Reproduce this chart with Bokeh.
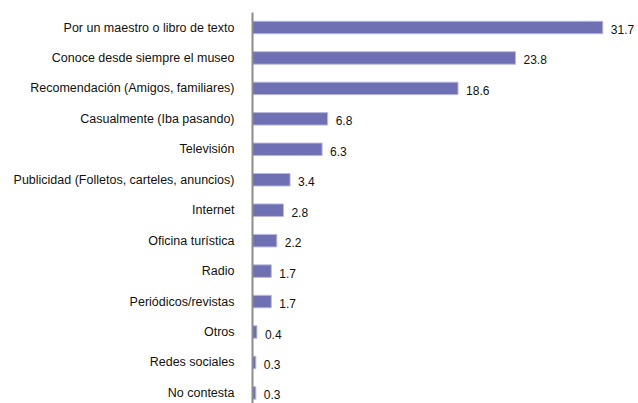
from bokeh.plotting import figure
from bokeh.models import ColumnDataSource, Range1d, FixedTicker
from bokeh.core.properties import value
from bokeh.embed import file_html
from bokeh.resources import INLINE

categories = ["Por un maestro o libro de texto", "Conoce desde siempre el museo",
              "Recomendación (Amigos, familiares)", "Casualmente (Iba pasando)",
              "Televisión", "Publicidad (Folletos, carteles, anuncios)", "Internet",
              "Oficina turística", "Radio", "Periódicos/revistas", "Otros",
              "Redes sociales", "No contesta"]
values = [31.7, 23.8, 18.6, 6.8, 6.3, 3.4, 2.8, 2.2, 1.7, 1.7, 0.4, 0.3, 0.3]

n = len(categories)
ypos = [n - 1 - i for i in range(n)]
src = ColumnDataSource(dict(y=ypos, v=values, lab=[f"{v:.1f}" for v in values]))

W, H = 638, 403
left_border, top_border = 252, 12
first_center = 27
px_per_row = 30.45
px_per_unit = 11.05

frame_w = W - left_border
frame_h = H - top_border
y_end = (n - 1) + (first_center - top_border) / px_per_row
y_start = y_end - frame_h / px_per_row

p = figure(width=W, height=H, output_backend="svg", toolbar_location=None,
           x_range=Range1d(0, frame_w / px_per_unit), y_range=Range1d(y_start, y_end),
           min_border_left=left_border, min_border_top=top_border,
           min_border_right=0, min_border_bottom=0)
p.outline_line_color = None
p.xgrid.visible = False
p.ygrid.visible = False
p.xaxis.visible = False
p.background_fill_color = "white"
p.border_fill_color = "white"

p.hbar(y="y", left=0, right="v", height=12.5 / px_per_row, source=src,
       fill_color="#6F6FB4", line_color="#B8B8E0", line_width=1)

p.text(x="v", y="y", text="lab", source=src, x_offset=8, y_offset=2,
       text_font=value("Liberation Sans"), text_font_size="12px",
       text_baseline="middle", text_align="left", text_color="#111111")

ax = p.yaxis[0]
ax.ticker = FixedTicker(ticks=ypos)
ax.major_label_overrides = {y: c for y, c in zip(ypos, categories)}
ax.major_tick_out = 0
ax.major_tick_in = 0
ax.minor_tick_out = 0
ax.minor_tick_in = 0
ax.axis_line_color = "#8C8C8C"
ax.axis_line_width = 2
ax.major_label_standoff = 18
ax.major_label_text_font = "Liberation Sans"
ax.major_label_text_font_size = "12.5px"
ax.major_label_text_color = "#111111"

open("out.html", "w").write(file_html(p, INLINE))
